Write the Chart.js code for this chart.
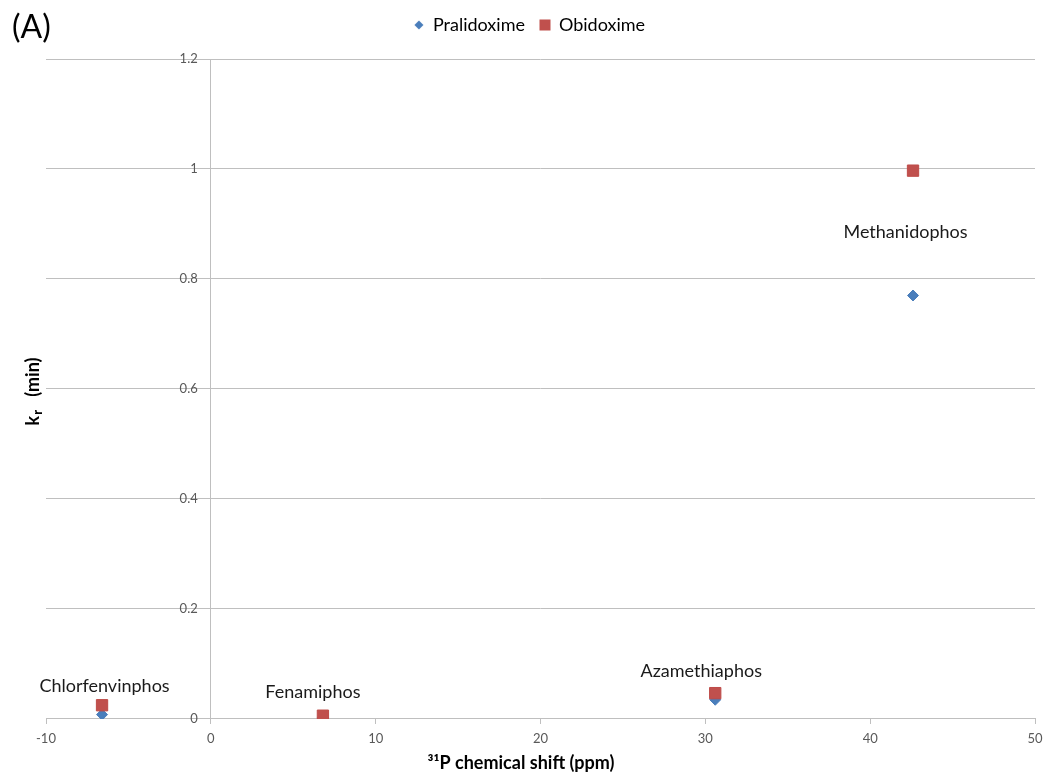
<!DOCTYPE html>
<html>
<head>
<meta charset="utf-8">
<script src="https://cdn.jsdelivr.net/npm/chart.js@4/dist/chart.umd.min.js"></script>
<style>
  html, body { margin: 0; padding: 0; background: #ffffff; }
  #wrap { width: 1047px; height: 773px; position: relative; }
</style>
</head>
<body>
<div id="wrap"><canvas id="chart"></canvas></div>
<script>
// Organophosphates: 31P chemical shift vs. reactivation rate constant
const compounds   = ['Chlorfenvinphos', 'Fenamiphos', 'Azamethiaphos', 'Methanidophos'];
const shiftPpm    = [-6.6, 6.8, 30.6, 42.6];
const pralidoxime = [0.008, 0.002, 0.035, 0.770];
const obidoxime   = [0.025, 0.006, 0.047, 0.997];
const xTicks = [-10, 0, 10, 20, 30, 40, 50];
const yTicks = [0, 0.2, 0.4, 0.6, 0.8, 1, 1.2];

const FONT = 'Lato';
const GRID = '#bfbfbf';
const TICK_TEXT = '#595959';
const BLUE = '#4a7ebb';
const RED = '#c0504d';

function points(values) {
  return shiftPpm.map((x, i) => ({ x: x, y: values[i] }));
}

// Small marker images for the legend entries
function legendIcon(shape, color) {
  const c = document.createElement('canvas');
  c.width = 12; c.height = 12;
  const g = c.getContext('2d');
  g.fillStyle = color;
  if (shape === 'diamond') {
    g.beginPath();
    g.moveTo(6, 1.5); g.lineTo(10.5, 6); g.lineTo(6, 10.5); g.lineTo(1.5, 6);
    g.closePath();
    g.fill();
  } else {
    g.fillRect(0.5, 0.5, 11, 11);
  }
  return c;
}
const legendIcons = [legendIcon('diamond', BLUE), legendIcon('square', RED)];

// Compound names written next to the Obidoxime markers
const pointNames = {
  id: 'pointNames',
  afterDatasetsDraw(chart, args, opts) {
    const meta = chart.getDatasetMeta(opts.datasetIndex);
    const ctx = chart.ctx;
    ctx.save();
    ctx.font = opts.font;
    ctx.fillStyle = opts.color;
    ctx.textAlign = 'center';
    ctx.textBaseline = 'middle';
    compounds.forEach((name, i) => {
      const p = meta.data[i];
      const off = opts.offsets[i];
      ctx.fillText(name, p.x + off[0], p.y + off[1]);
    });
    ctx.restore();
  }
};

// Panel letter and the two axis titles
const panelText = {
  id: 'panelText',
  afterDraw(chart) {
    const ctx = chart.ctx;
    ctx.save();
    ctx.fillStyle = '#000000';
    ctx.font = '32px ' + FONT;
    ctx.textAlign = 'left';
    ctx.textBaseline = 'middle';
    ctx.fillText('(A)', 12, 28);

    // x-axis title
    ctx.font = 'bold 18px ' + FONT;
    ctx.textAlign = 'center';
    ctx.fillText('³¹P chemical shift (ppm)', 521, 763);

    // y-axis title, k with subscript r
    ctx.translate(33, 392);
    ctx.rotate(-Math.PI / 2);
    ctx.textAlign = 'left';
    const big = 'bold 18px ' + FONT;
    const small = 'bold 13px ' + FONT;
    ctx.font = big;
    const wk = ctx.measureText('k').width;
    const wrest = ctx.measureText('   (min)').width;
    ctx.font = small;
    const wr = ctx.measureText('r').width;
    let x = -(wk + wr + wrest) / 2;
    ctx.font = big;
    ctx.fillText('k', x, 0);
    x += wk + 1;
    ctx.font = small;
    ctx.fillText('r', x, 5);
    x += wr;
    ctx.font = big;
    ctx.fillText('   (min)', x, 0);
    ctx.restore();
  }
};

// Legend spacing: extra room below it and a small shift to the left
const legendPlace = {
  id: 'legendPlace',
  beforeInit(chart) {
    const fit = chart.legend.fit;
    chart.legend.fit = function () {
      fit.bind(chart.legend)();
      this.height += 15;
    };
  },
  afterLayout(chart) {
    chart.legend.left -= 11;
    chart.legend.right -= 11;
  }
};

new Chart(document.getElementById('chart'), {
  type: 'scatter',
  data: {
    datasets: [
      {
        label: 'Pralidoxime',
        data: points(pralidoxime),
        pointStyle: 'rectRot',
        pointRadius: 5.5,
        pointHoverRadius: 5.5,
        backgroundColor: BLUE,
        borderColor: BLUE,
        borderWidth: 1,
        order: 2
      },
      {
        label: 'Obidoxime',
        data: points(obidoxime),
        pointStyle: 'rect',
        pointRadius: 8,
        pointHoverRadius: 8,
        backgroundColor: RED,
        borderColor: '#be4b48',
        borderWidth: 1,
        order: 1
      }
    ]
  },
  options: {
    responsive: true,
    maintainAspectRatio: false,
    animation: false,
    events: [],
    layout: { padding: { left: 46, right: 12, top: 1, bottom: 20 } },
    plugins: {
      tooltip: { enabled: false },
      legend: {
        position: 'top',
        align: 'center',
        labels: {
          usePointStyle: true,
          boxWidth: 10,
          boxHeight: 10,
          padding: 15,
          color: '#000000',
          font: { family: FONT, size: 18 },
          sort: (a, b) => a.datasetIndex - b.datasetIndex,
          generateLabels: (chart) => {
            const items = Chart.defaults.plugins.legend.labels.generateLabels(chart);
            items.forEach((it) => { it.pointStyle = legendIcons[it.datasetIndex]; });
            return items;
          }
        }
      },
      pointNames: {
        datasetIndex: 1,
        font: '18px ' + FONT,
        color: '#1a1a1a',
        offsets: [[2.5, -19], [-10, -24], [-14, -21.5], [-7.5, 61.5]]
      }
    },
    scales: {
      x: {
        type: 'linear',
        position: 'bottom',
        min: -10,
        max: 50,
        afterBuildTicks: (scale) => { scale.ticks = xTicks.map(v => ({ value: v })); },
        grid: { drawOnChartArea: false, drawTicks: true, tickLength: 5, color: GRID },
        border: { color: GRID, width: 1 },
        ticks: {
          color: TICK_TEXT,
          font: { family: FONT, size: 13, lineHeight: 1.77 },
          padding: 3,
          maxRotation: 0
        },
        title: { display: false }
      },
      y: {
        type: 'linear',
        position: { x: 0 },
        min: 0,
        max: 1.2,
        afterBuildTicks: (scale) => { scale.ticks = yTicks.map(v => ({ value: v })); },
        grid: { color: GRID, drawTicks: false },
        border: { color: GRID, width: 1 },
        ticks: {
          color: TICK_TEXT,
          font: { family: FONT, size: 13 },
          callback: (v) => String(Math.round(v * 10) / 10) + '\u2003 '
        },
        title: { display: false }
      }
    }
  },
  plugins: [pointNames, panelText, legendPlace]
});
</script>
</body>
</html>
